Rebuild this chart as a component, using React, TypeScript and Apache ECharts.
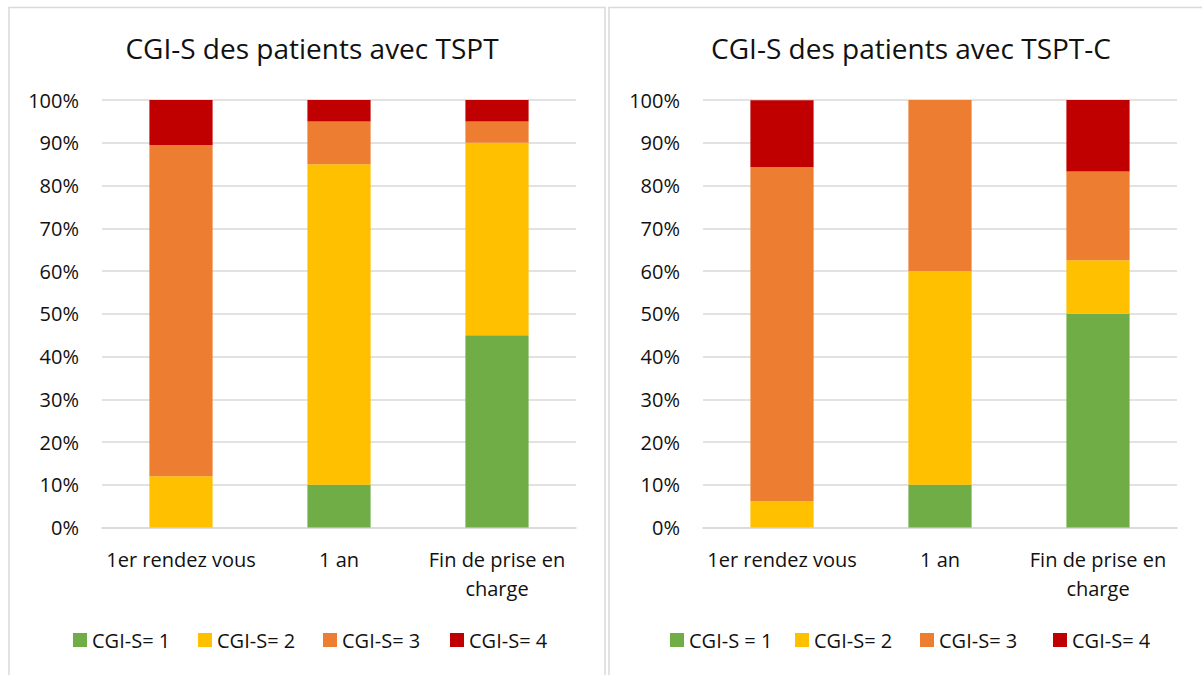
import React, { useEffect, useRef } from "react";
import * as echarts from "echarts";

const categories = ["1er rendez vous", "1 an", "Fin de prise en charge"];
const titleLeft = "CGI-S des patients avec TSPT";
const titleRight = "CGI-S des patients avec TSPT-C";
const namesLeft = ["CGI-S= 1", "CGI-S= 2", "CGI-S= 3", "CGI-S= 4"];
const namesRight = ["CGI-S = 1", "CGI-S= 2 ", "CGI-S= 3 ", "CGI-S= 4 "];
const tspt1 = [0, 10, 45];
const tspt2 = [12, 75, 45];
const tspt3 = [77.5, 10, 5];
const tspt4 = [10.5, 5, 5];
const tsptc1 = [0, 10, 50];
const tsptc2 = [6.25, 50, 12.5];
const tsptc3 = [78.1, 40, 20.8];
const tsptc4 = [15.6, 0, 16.7];
const colors = ["#70ad47", "#ffc000", "#ed7d31", "#c00000"];
const legendLeftPos = [73, 198, 323, 450];
const legendRightPos = [670, 795, 920, 1053];

const FONT = "Open Sans";
const TXT = "#111";

export default function App() {
  const ref = useRef<HTMLDivElement>(null);
  useEffect(() => {
    if (!ref.current) return;
    const chart = echarts.init(ref.current, null, { renderer: "svg" });
    const leftData = [tspt1, tspt2, tspt3, tspt4];
    const rightData = [tsptc1, tsptc2, tsptc3, tsptc4];
    const xAxisBase = (gi: number) => ({
      type: "category",
      gridIndex: gi,
      data: categories,
      axisLine: { lineStyle: { color: "#d9d9d9", width: 1.5 } },
      axisTick: { show: false },
      axisLabel: {
        color: TXT,
        fontFamily: FONT,
        fontSize: 20,
        lineHeight: 29,
        margin: 17,
        interval: 0,
        formatter: (v: string) => (v === "Fin de prise en charge" ? "Fin de prise en\ncharge" : v),
      },
    });
    const yAxisBase = (gi: number) => ({
      type: "value",
      gridIndex: gi,
      min: 0,
      max: 100,
      interval: 10,
      axisLine: { show: false },
      axisTick: { show: false },
      splitLine: { lineStyle: { color: "#d9d9d9", width: 1.5 } },
      axisLabel: { color: TXT, fontFamily: FONT, fontSize: 20, margin: 23, formatter: "{value}%" },
    });
    const series: any[] = [];
    leftData.forEach((d, i) => {
      series.push({
        name: namesLeft[i],
        type: "bar",
        stack: "left",
        xAxisIndex: 0,
        yAxisIndex: 0,
        barWidth: "40%",
        data: d,
        itemStyle: { color: colors[i] },
      });
    });
    rightData.forEach((d, i) => {
      series.push({
        name: namesRight[i],
        type: "bar",
        stack: "right",
        xAxisIndex: 1,
        yAxisIndex: 1,
        barWidth: "40%",
        data: d,
        itemStyle: { color: colors[i] },
      });
    });
    const legendBase = {
      icon: "rect",
      itemWidth: 14,
      itemHeight: 14,
      padding: 0,
      top: 630,
      selectedMode: false,
      formatter: (n: string) => n.trim(),
      textStyle: { color: TXT, fontFamily: FONT, fontSize: 20, padding: [0, 0, 0, 0] },
    };
    const legends: any[] = [];
    namesLeft.forEach((n, i) => legends.push({ ...legendBase, data: [n], left: legendLeftPos[i] }));
    namesRight.forEach((n, i) => legends.push({ ...legendBase, data: [n], left: legendRightPos[i] }));
    chart.setOption({
      animation: false,
      backgroundColor: "#fff",
      title: [
        { text: titleLeft, left: 307, top: 29, textAlign: "center", textStyle: { color: TXT, fontFamily: FONT, fontSize: 28, fontWeight: "normal" } },
        { text: titleRight, left: 906, top: 29, textAlign: "center", textStyle: { color: TXT, fontFamily: FONT, fontSize: 28, fontWeight: "normal" } },
      ],
      legend: legends,
      grid: [
        { left: 102, width: 474, top: 100, height: 427.6 },
        { left: 703, width: 474, top: 100, height: 427.6 },
      ],
      xAxis: [xAxisBase(0), xAxisBase(1)],
      yAxis: [yAxisBase(0), yAxisBase(1)],
      series,
      graphic: [
        { type: "rect", shape: { x: 9, y: 7.5, width: 596, height: 700 }, style: { fill: "none", stroke: "#d9d9d9", lineWidth: 1.5 }, silent: true },
        { type: "rect", shape: { x: 609, y: 7.5, width: 700, height: 700 }, style: { fill: "none", stroke: "#d9d9d9", lineWidth: 1.5 }, silent: true },
      ],
    });
    return () => chart.dispose();
  }, []);
  return <div ref={ref} style={{ position: "fixed", left: 0, top: 0, width: 1202, height: 675 }} />;
}
